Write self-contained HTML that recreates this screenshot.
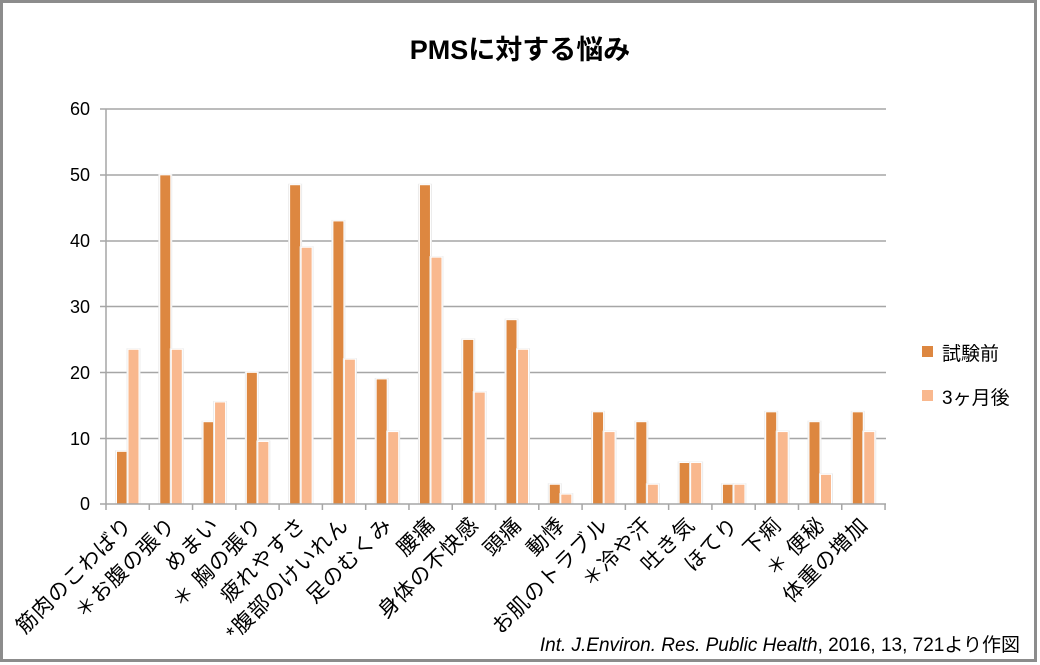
<!DOCTYPE html>
<html><head><meta charset="utf-8"><style>
html,body{margin:0;padding:0;background:#fff}
svg{display:block;font-family:"Liberation Sans","Noto Sans CJK JP",sans-serif}
</style></head><body>
<svg width="1040" height="665" viewBox="0 0 1040 665" xmlns="http://www.w3.org/2000/svg">
<rect x="1.5" y="1.5" width="1034" height="659" fill="#fff" stroke="#8c8c8c" stroke-width="3"/>
<text x="520" y="59" text-anchor="middle" font-size="27" font-weight="bold" fill="#000">PMSに対する悩み</text>
<g stroke="#a6a6a6" stroke-width="1.5">
<line x1="100" y1="109" x2="886" y2="109"/>
<line x1="100" y1="175" x2="886" y2="175"/>
<line x1="100" y1="241" x2="886" y2="241"/>
<line x1="100" y1="306.5" x2="886" y2="306.5"/>
<line x1="100" y1="372.5" x2="886" y2="372.5"/>
<line x1="100" y1="438.5" x2="886" y2="438.5"/>
<line x1="106" y1="109" x2="106" y2="504"/>
</g>
<g font-size="18" fill="#000" text-anchor="end">
<text x="90" y="115">60</text><text x="90" y="181">50</text><text x="90" y="247">40</text>
<text x="90" y="313">30</text><text x="90" y="379">20</text><text x="90" y="445">10</text><text x="90" y="510">0</text>
</g>
<g id="bars"></g>
<line x1="100" y1="504" x2="886" y2="504" stroke="#a6a6a6" stroke-width="1.5"/>
<g id="ticks" stroke="#a6a6a6" stroke-width="1.5"></g>
<g id="labels" font-size="21" fill="#000" text-anchor="end" letter-spacing="1"></g>
<rect x="922" y="346" width="11" height="11" fill="#dd8740"/>
<text x="942" y="360" font-size="19">試験前</text>
<rect x="922" y="390" width="11" height="11" fill="#f9b88e"/>
<text x="942" y="404" font-size="19">3ヶ月後</text>
<text x="1020" y="651" text-anchor="end" font-size="19"><tspan font-style="italic">Int. J.Environ. Res. Public Health</tspan>, 2016, 13, 721より作図</text>
</svg>
<script>
var a=[8,50,12.5,20,48.5,43,19,48.5,25,28,3,14,12.5,6.3,3,14,12.5,14];
var b=[23.5,23.5,15.5,9.5,39,22,11,37.5,17,23.5,1.5,11,3,6.3,3,11,4.5,11];
var L=["筋肉のこわばり","＊お腹の張り","めまい","＊ 胸の張り","疲れやすさ","*腹部のけいれん","足のむくみ","腰痛","身体の不快感","頭痛","動悸","お肌のトラブル","＊冷や汗","吐き気","ほてり","下痢","＊ 便秘","体重の増加"];
var ns="http://www.w3.org/2000/svg",w=43.28,s=6.583;
var B=document.getElementById("bars"),T=document.getElementById("ticks"),G=document.getElementById("labels");
function el(t,at,p){var e=document.createElementNS(ns,t);for(var k in at)e.setAttribute(k,at[k]);p.appendChild(e);return e;}
for(var i=0;i<18;i++){
 var x0=106+i*w;
 [[a[i],"#dd8740",10.5],[b[i],"#f9b88e",22]].forEach(function(v){
  var h=v[0]*s;
  el("rect",{x:x0+v[2]-1.5,y:504-h-1,width:14,height:h+1,fill:"#ececec"},B);
  el("rect",{x:x0+v[2],y:504-h,width:11,height:h,fill:v[1],stroke:"#fff","stroke-width":1},B);
 });
 el("line",{x1:x0,y1:504,x2:x0,y2:510},T);
 var cx=x0+w/2+6;
 var t=el("text",{x:cx,y:526,transform:"rotate(-45 "+cx+" 526)"},G);t.textContent=L[i];
}
el("line",{x1:106+18*w,y1:504,x2:106+18*w,y2:510},T);
</script>
</body></html>
